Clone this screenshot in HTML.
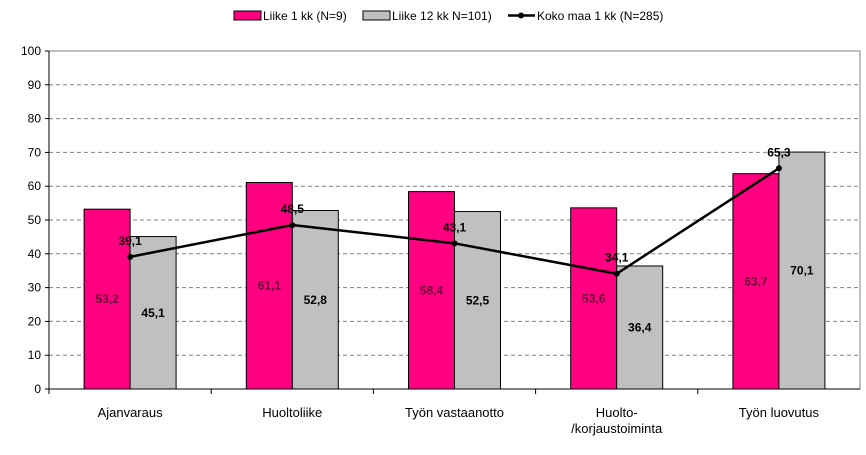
<!DOCTYPE html>
<html><head><meta charset="utf-8"><style>
body{margin:0;background:#fff;}
svg text{font-family:"Liberation Sans",Arial,sans-serif;}
</style></head><body>
<svg id="chart" width="866" height="450" xmlns="http://www.w3.org/2000/svg">
<g id="legend">
  <g><rect x="234" y="11" width="27" height="9" fill="#ff0080" stroke="#000" stroke-width="1"/><text x="263" y="20" font-size="12">Liike 1 kk (N=9)</text></g>
  <g><rect x="363" y="11" width="27" height="9" fill="#c0c0c0" stroke="#000" stroke-width="1"/><text x="392" y="20" font-size="12">Liike 12 kk N=101)</text></g>
  <g><line x1="508" y1="15.5" x2="535" y2="15.5" stroke="#000" stroke-width="2.5"/><circle cx="521" cy="15.5" r="3" fill="#000"/><text x="537" y="20" font-size="12">Koko maa 1 kk (N=285)</text></g>
</g>
<g id="plot"></g>
</svg>
<script>
const categories=["Ajanvaraus","Huoltoliike","Työn vastaanotto","Huolto-|/korjaustoiminta","Työn luovutus"];
const liike1=[53.2,61.1,58.4,53.6,63.7];
const liike12=[45.1,52.8,52.5,36.4,70.1];
const kokoMaa=[39.1,48.5,43.1,34.1,65.3];
const yTicks=[0,10,20,30,40,50,60,70,80,90,100];
const NS="http://www.w3.org/2000/svg";
const g=document.getElementById('plot');
const X0=49,X1=860,Y0=389,Y1=51;
const gw=(X1-X0)/categories.length;
const y=v=>Y0-(v/100)*(Y0-Y1);
const fmt=v=>v.toFixed(1).replace('.',',');
function mk(t,a,txt){const e=document.createElementNS(NS,t);for(const k in a)e.setAttribute(k,a[k]);if(txt!==undefined)e.textContent=txt;g.appendChild(e);return e;}
yTicks.forEach(t=>{
  if(t>0&&t<100){const l=mk('line',{x1:X0,x2:X1,y1:y(t),y2:y(t),stroke:'#808080','stroke-dasharray':'4,3'});}
  const tk=mk('line',{x1:X0-4,x2:X0,y1:y(t),y2:y(t),stroke:'#000'});
  
  const tl=mk('text',{x:X0-8,y:y(t)+4,'font-size':12,'text-anchor':'end'},String(t));
  
});
const fr=mk('rect',{x:X0,y:Y1,width:X1-X0,height:Y0-Y1,fill:'none',stroke:'#808080'});

categories.forEach((c,i)=>{
  const gx=X0+i*gw, cx=gx+gw/2;
  const b1=mk('rect',{x:cx-46,y:y(liike1[i]),width:46,height:Y0-y(liike1[i]),fill:'#ff0080',stroke:'#000'});
  
  const b2=mk('rect',{x:cx,y:y(liike12[i]),width:46,height:Y0-y(liike12[i]),fill:'#c0c0c0',stroke:'#000'});
  
  const l1=mk('text',{x:cx-23,y:(y(liike1[i])+Y0)/2+4,'font-size':12,'font-weight':'bold','text-anchor':'middle',fill:'#660033'},fmt(liike1[i]));
  
  const l2=mk('text',{x:cx+23,y:(y(liike12[i])+Y0)/2+4,'font-size':12,'font-weight':'bold','text-anchor':'middle'},fmt(liike12[i]));
  
  const tk=mk('line',{x1:gx,x2:gx,y1:Y0,y2:Y0+5,stroke:'#000'});
  
  c.split('|').forEach((p,j)=>{const t=mk('text',{x:cx,y:Y0+28+j*16,'font-size':13,'text-anchor':'middle'},p);});
});
const ax=mk('line',{x1:X0,x2:X1,y1:Y0,y2:Y0,stroke:'#000'});
const ay=mk('line',{x1:X0,x2:X0,y1:Y1,y2:Y0,stroke:'#000'});
const pts=kokoMaa.map((v,i)=>(X0+i*gw+gw/2)+','+y(v)).join(' ');
const pl=mk('polyline',{points:pts,fill:'none',stroke:'#000','stroke-width':2.5});

kokoMaa.forEach((v,i)=>{
  const cx=X0+i*gw+gw/2;
  const p=mk('circle',{cx:cx,cy:y(v),r:3,fill:'#000'});
  
  const t=mk('text',{x:cx,y:y(v)-12,'font-size':12,'font-weight':'bold','text-anchor':'middle'},fmt(v));
  
});
</script>
</body></html>
